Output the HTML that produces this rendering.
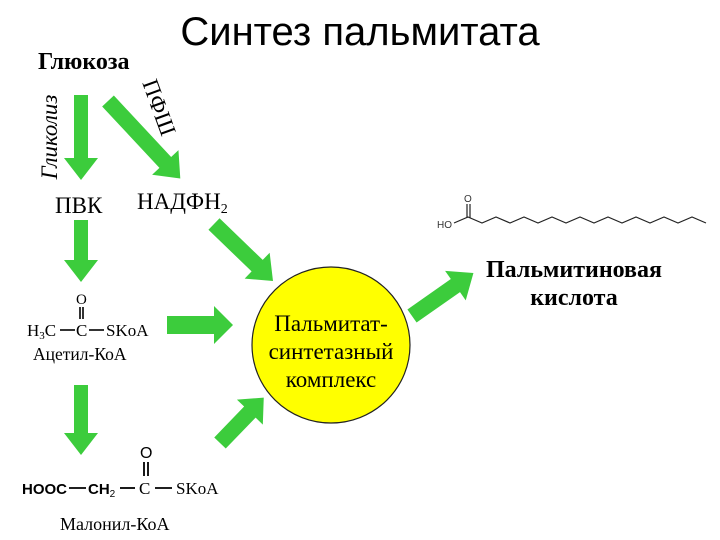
<!DOCTYPE html>
<html><head><meta charset="utf-8"><style>
html,body{margin:0;padding:0;background:#fff}
svg{display:block}
.s{font-family:"Liberation Serif",serif}
</style></head><body>
<svg width="720" height="540" xmlns="http://www.w3.org/2000/svg">
<g fill="#3ccc3c">
<g transform="translate(81,95) rotate(90)"><polygon points="0,-7 63,-7 63,-17 85,0 63,17 63,7 0,7"/></g>
<g transform="translate(81,220) rotate(90)"><polygon points="0,-7 40,-7 40,-17 62,0 40,17 40,7 0,7"/></g>
<g transform="translate(81,385) rotate(90)"><polygon points="0,-7 48,-7 48,-17 70,0 48,17 48,7 0,7"/></g>
<g transform="translate(108,101) rotate(47)"><polygon points="0,-8 84,-8 84,-18 106,0 84,18 84,8 0,8"/></g>
<g transform="translate(214,224) rotate(44)"><polygon points="0,-8 60,-8 60,-18 82,0 60,18 60,8 0,8"/></g>
<g transform="translate(167,325) rotate(0)"><polygon points="0,-9 47,-9 47,-19 66,0 47,19 47,9 0,9"/></g>
<g transform="translate(220,443) rotate(-46)"><polygon points="0,-8 43,-8 43,-18 63,0 43,18 43,8 0,8"/></g>
<g transform="translate(412,316) rotate(-35)"><polygon points="0,-8 53,-8 53,-18 75,0 53,18 53,8 0,8"/></g>
</g>
<ellipse cx="331" cy="345" rx="79" ry="78" fill="#ffff00" stroke="#222" stroke-width="1.2"/>
<text x="360" y="45" text-anchor="middle" font-family="Liberation Sans,sans-serif" font-size="40">Синтез пальмитата</text>
<text x="38" y="69" class="s" font-size="24" font-weight="bold">Глюкоза</text>
<text transform="translate(57,137) rotate(-90)" text-anchor="middle" class="s" font-size="23" font-style="italic">Гликолиз</text>
<text transform="translate(152,110) rotate(70)" text-anchor="middle" class="s" font-size="23">ПФШ</text>
<text x="55" y="213" class="s" font-size="23">ПВК</text>
<text x="137" y="209" class="s" font-size="23">НАДФН<tspan font-size="14" dy="4">2</tspan></text>
<text x="331" y="331" text-anchor="middle" class="s" font-size="23">Пальмитат-</text>
<text x="331" y="359" text-anchor="middle" class="s" font-size="23">синтетазный</text>
<text x="331" y="387" text-anchor="middle" class="s" font-size="23">комплекс</text>
<text x="574" y="277" text-anchor="middle" class="s" font-size="24" font-weight="bold">Пальмитиновая</text>
<text x="574" y="305" text-anchor="middle" class="s" font-size="24" font-weight="bold">кислота</text>
<text x="437" y="228" font-family="Liberation Sans,sans-serif" font-size="10" fill="#333">HO</text>
<text x="464" y="202" font-family="Liberation Sans,sans-serif" font-size="10" fill="#333">O</text>
<g stroke="#222" stroke-width="1.2" fill="none">
<line x1="467" y1="204" x2="467" y2="218"/><line x1="470" y1="204" x2="470" y2="218"/>
<polyline points="454,223 468,217 482,223 496,217 510,223 524,217 538,223 552,217 566,223 580,217 594,223 608,217 622,223 636,217 650,223 664,217 678,223 692,217 706,223"/>
</g>
<text x="76" y="304" class="s" font-size="15">O</text>
<g stroke="#000" stroke-width="1.6"><line x1="80" y1="307" x2="80" y2="319"/><line x1="83" y1="307" x2="83" y2="319"/>
<line x1="60" y1="330" x2="75" y2="330"/><line x1="89" y1="330" x2="104" y2="330"/></g>
<text x="27" y="336" class="s" font-size="17">H<tspan font-size="11" dy="3">3</tspan><tspan dy="-3">C</tspan></text>
<text x="76" y="336" class="s" font-size="17">C</text>
<text x="106" y="336" class="s" font-size="17">SKoA</text>
<text x="33" y="360" class="s" font-size="17.5">Ацетил-КоА</text>
<text x="140" y="458" font-family="Liberation Sans,sans-serif" font-size="16">O</text>
<g stroke="#000" stroke-width="1.8"><line x1="144" y1="462" x2="144" y2="476"/><line x1="148" y1="462" x2="148" y2="476"/>
<line x1="69" y1="488" x2="86" y2="488"/><line x1="120" y1="488" x2="135" y2="488"/><line x1="155" y1="488" x2="172" y2="488"/></g>
<text x="22" y="494" font-family="Liberation Sans,sans-serif" font-size="15" font-weight="bold">HOOC</text>
<text x="88" y="494" font-family="Liberation Sans,sans-serif" font-size="15" font-weight="bold">CH<tspan font-size="10" dy="3" font-weight="normal">2</tspan></text>
<text x="139" y="494" class="s" font-size="17">C</text>
<text x="176" y="494" class="s" font-size="17">SKoA</text>
<text x="60" y="530" class="s" font-size="18">Малонил-КоА</text>
</svg>
</body></html>
